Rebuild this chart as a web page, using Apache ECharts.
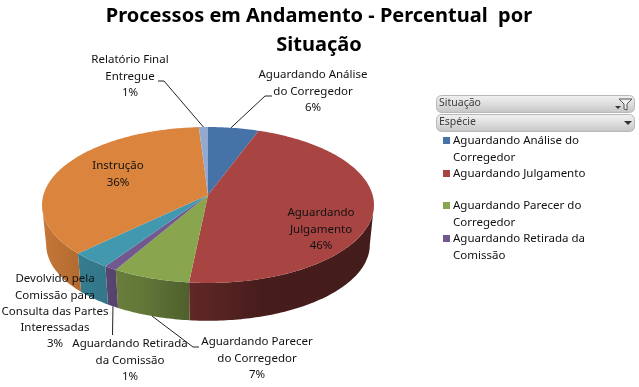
<!DOCTYPE html>
<html><head><meta charset="utf-8">
<style>html,body{margin:0;padding:0;background:#fff}#c{width:639px;height:387px}</style>
<script src="https://cdn.jsdelivr.net/npm/echarts@6/dist/echarts.min.js"></script></head>
<body><div id="c"></div>
<script>
var categories = ["Aguardando Análise do Corregedor","Aguardando Julgamento","Aguardando Parecer do Corregedor","Aguardando Retirada da Comissão","Devolvido pela Comissão para Consulta das Partes Interessadas","Instrução","Relatório Final Entregue"];
var values = [5.6,46,6.7,1.1,3.4,36.2,1.0];
var colors = ["#4572A7","#A84543","#89A54E","#71588F","#4198AF","#DB843D","#93A9CF"];
var labelLines = [["Aguardando Análise","do Corregedor"],["Aguardando","Julgamento"],["Aguardando Parecer","do Corregedor"],["Aguardando Retirada","da Comissão"],["Devolvido pela","Comissão para","Consulta das Partes","Interessadas"],["Instrução"],["Relatório Final","Entregue"]];
var legendLines = [["Aguardando Análise do","Corregedor"],["Aguardando Julgamento",""],["Aguardando Parecer do","Corregedor"],["Aguardando Retirada da","Comissão"]];
var titleText = "Processos em Andamento - Percentual  por\nSituação";
var filterNames = ["Situação","Espécie"];

var FONT = '"Noto Sans"';
var P = {cx:208, cy:195, rx:164.6, ry:76.7, k:0.128, depth:40, shrink:0.975};
var labelPos = [[313,75],[321,213],[257,342],[130,344],[55,279],[118,166],[130,60]];
var elbows = [[[265,96],[272,96]],null,[[193,347],[199,347]],[[112.5,335]],null,null,[[164,81],[158,81]]];
var lineAt = [0.45,0,0.5,0.5,0,0,0.5];

var total = values.reduce(function(a,b){return a+b;},0);
var starts = []; values.reduce(function(a,b,i){starts[i]=a;return a+b;},0);
function proj(t){ // t: radians clockwise from top
  var u=Math.sin(t), v=-Math.cos(t), s=1/(1-P.k*v);
  return [P.cx+P.rx*u*s, P.cy+P.ry*v*s];
}
function low(p){return [P.cx+(p[0]-P.cx)*P.shrink, P.cy+P.depth+(p[1]-P.cy)*P.shrink];}
function shade(hex,f){
  var n=parseInt(hex.slice(1),16);
  return 'rgb('+[(n>>16)&255,(n>>8)&255,n&255].map(function(c){return Math.round(c*f);}).join(',')+')';
}
var shadeStops=[[0,.9],[.105,.82],[.19,.78],[.3,.72],[.44,.58],[.66,.42],[1,.4]];
var T0=Math.acos(-P.k), T1=2*Math.PI-T0;
function renderSlice(params,api){
  var i=params.dataIndex, a=starts[i]/total*2*Math.PI, b=(starts[i]+values[i])/total*2*Math.PI;
  var n=Math.max(4,Math.ceil((b-a)*60)), pts=[[P.cx,P.cy]], j;
  for(j=0;j<=n;j++)pts.push(proj(a+(b-a)*j/n));
  var children=[];
  var wa=Math.max(a,T0), wb=Math.min(b,T1);
  if(wb>wa){
    var top=[],bot=[],m=Math.max(4,Math.ceil((wb-wa)*60));
    for(j=0;j<=m;j++){var p=proj(wa+(wb-wa)*j/m);top.push(p);bot.unshift(low(p));}
    children.push({type:'polygon',z2:1,shape:{points:top.concat(bot)},style:{fill:new echarts.graphic.LinearGradient(42,0,374,0,shadeStops.map(function(s){return {offset:s[0],color:shade(colors[i],s[1])};}),true)}});
  }
  children.push({type:'polygon',z2:2,shape:{points:pts},style:{fill:colors[i]}});
  if(elbows[i]){
    var st=proj(a+(b-a)*lineAt[i]);
    if(i===2||i===3) st=low(st);
    children.push({type:'polyline',z2:3,shape:{points:[st].concat(elbows[i])},style:{stroke:'#222',lineWidth:1,fill:null}});
  }
  var txt=labelLines[i].concat([Math.round(values[i]/total*100)+'%']).join('\n');
  children.push({type:'text',z2:4,x:labelPos[i][0],y:labelPos[i][1]-8,style:{text:txt,font:'11.5px '+FONT,fill:'#111',align:'center',verticalAlign:'top',lineHeight:16.2}});
  return {type:'group',children:children};
}

var g=[];
function btn(y,h,label){
  g.push({type:'rect',shape:{x:436.5,y:y+.5,width:198,height:h,r:5},style:{stroke:'#b8b8b8',lineWidth:1,fill:new echarts.graphic.LinearGradient(0,0,0,1,[{offset:0,color:'#f2f2f2'},{offset:.5,color:'#dedede'},{offset:1,color:'#c4c4c4'}])}});
  g.push({type:'text',x:439,y:y+3,style:{text:label,font:'10.5px '+FONT,fill:'#3c3c3c'}});
}
btn(95,17,filterNames[0]); btn(114,17,filterNames[1]);
g.push({type:'polygon',shape:{points:[[619,99],[632,99],[627,104],[627,110],[624,109],[624,104]]},style:{fill:'#eee',stroke:'#555',lineWidth:1}});
g.push({type:'polygon',shape:{points:[[615,106],[621,106],[618,109]]},style:{fill:'#333'}});
g.push({type:'polygon',shape:{points:[[624,121],[632,121],[628,125]]},style:{fill:'#333'}});
var lgY=[141,174,206,239];
legendLines.forEach(function(l,i){
  g.push({type:'rect',shape:{x:443,y:lgY[i]-4,width:7,height:7},style:{fill:colors[i]}});
  g.push({type:'text',x:453,y:lgY[i]-8,style:{text:l.join('\n'),font:'11.5px '+FONT,fill:'#111',lineHeight:16.2}});
});

var chart=echarts.init(document.getElementById('c'),null,{renderer:'canvas'});
chart.setOption({
  animation:false,
  backgroundColor:'#fff',
  title:{text:titleText,left:314,top:-3,textAlign:'center',textStyle:{fontFamily:FONT,fontWeight:'bold',fontSize:20,lineHeight:29,color:'#000'}},
  graphic:g,
  series:[{type:'custom',coordinateSystem:'none',renderItem:renderSlice,
    data:categories.map(function(c,i){return {name:c,value:values[i]};})}]
});
</script></body></html>
